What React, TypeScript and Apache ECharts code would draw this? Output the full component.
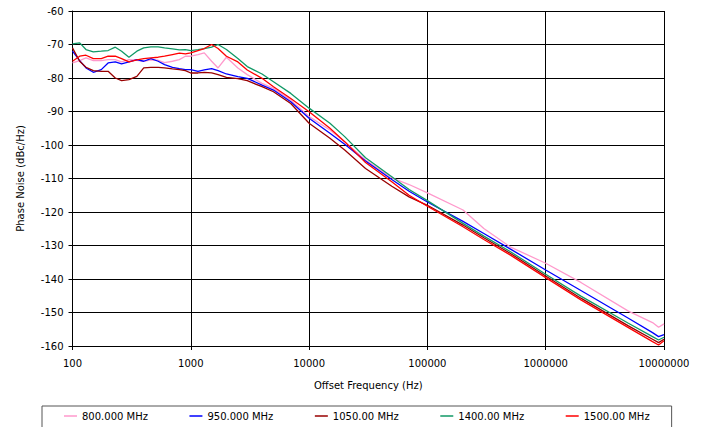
import React, { useEffect, useRef } from "react";
import * as echarts from "echarts";

// Offset frequency samples (Hz)
const freqHz = [
  100, 115, 130, 150, 175, 200, 230, 260, 300, 350, 400, 460, 530, 600, 700, 800, 900,
  1000, 1150, 1300, 1500, 1700, 2000, 2500, 3000, 4000, 5000, 7000, 10000, 15000, 20000,
  30000, 50000, 70000, 100000, 200000, 300000, 500000, 1000000, 2000000, 5000000, 8000000,
  9000000, 10000000,
];

const seriesNames = ["800.000 MHz", "950.000 MHz", "1050.00 MHz", "1400.00 MHz", "1500.00 MHz"];

const noise800 = [
  -75.5, -74.8, -74, -74.8, -74.8, -74.5, -74.5, -75.2, -74.5, -74.7, -75, -74.6, -74.7, -75.4,
  -75, -74.5, -73.5, -73.5, -73, -72.5, -75, -77, -73.8, -77,
  -79, -81.6, -83.1, -86.6, -91.5, -95.5, -99, -104.5, -109.8, -111.8, -114.3, -119.4, -124.9,
  -130.4, -135.3, -141.1, -149.6, -153, -154.4, -153.4,
];

const noise950 = [
  -72, -74.8, -77, -78.3, -77.5, -75.5, -75.2, -75.8, -75.2, -74.5, -75, -74.2, -75, -76,
  -76.8, -77.2, -77.5, -77.5, -78, -77.6, -77.2, -77.8, -78.8, -79.6,
  -80.1, -82.1, -83.6, -87.1, -92, -96.5, -99.8, -104.8, -110.3, -113.8, -117, -122.8, -126.4,
  -131, -137.3, -143.5, -151.7, -156, -157.2, -156.6,
];

const noise1050 = [
  -71, -75, -76.8, -77.8, -78, -78, -80, -80.8, -80.5, -79.5, -77, -76.8, -76.8, -77, -77.3,
  -77.5, -77.8, -78.5, -78.5, -78.3, -78.5, -79, -79.8, -80.2,
  -80.8, -82.6, -84.1, -87.6, -93.5, -98, -101.5, -107, -112.3, -115.5, -118, -123.9, -127.7,
  -132.3, -139.1, -145.8, -154, -158, -159, -158,
];

const noise1400 = [
  -69.8, -69.5, -71.5, -72.2, -72, -71.8, -70.8, -72, -73.8, -72, -71, -70.7, -70.7, -71,
  -71.3, -71.6, -71.5, -71.8, -71.5, -71.2, -70.8, -70, -71.5, -74.2,
  -76.6, -78.8, -81.1, -84.6, -89, -93.5, -97.5, -103.8, -109.5, -113.3, -116.6, -123.4, -127.2,
  -131.8, -138.6, -145.2, -153.2, -157.2, -158.2, -157.4,
];

const noise1500 = [
  -75, -73.5, -73.2, -74.2, -74.2, -73.5, -73.5, -74.2, -75.2, -74.6, -74.2, -74, -73.8, -73.5,
  -73, -72.6, -72.8, -72.5, -71.8, -71.2, -70, -71.2, -73.5, -75.2,
  -77.6, -80.1, -82.6, -86.1, -90.1, -95, -99, -105.2, -111, -115, -118.3, -124.4, -128.2,
  -132.8, -139.6, -146.3, -154.5, -158.7, -159.7, -158.4,
];

const allSeries = [noise800, noise950, noise1050, noise1400, noise1500];
const seriesColors = ["#ff99cc", "#0000ff", "#990000", "#119966", "#ff0000"];

const FONT = "DejaVu Sans";

export default function App() {
  const ref = useRef<HTMLDivElement>(null);

  useEffect(() => {
    if (!ref.current) return;
    const chart = echarts.init(ref.current, undefined, { renderer: "svg" });
    const option: any = {
      animation: false,
      backgroundColor: "#ffffff",
      grid: { left: 72.5, right: 38, top: 11, bottom: 81, containLabel: false },
      xAxis: {
        type: "log",
        logBase: 10,
        min: 100,
        max: 10000000,
        name: "Offset Frequency (Hz)",
        nameLocation: "middle",
        nameGap: 34,
        nameTextStyle: { fontFamily: FONT, fontSize: 10, color: "#000" },
        axisLine: { show: true, lineStyle: { color: "#000", width: 1 } },
        axisTick: { show: true, length: 4, lineStyle: { color: "#000" } },
        axisLabel: {
          margin: 12,
          fontFamily: FONT,
          fontSize: 10,
          color: "#000",
          formatter: (v: number) => String(Math.round(v)),
        },
        splitLine: { show: true, lineStyle: { color: "#000", width: 1 } },
        minorTick: { show: false },
        minorSplitLine: { show: false },
      },
      yAxis: {
        type: "value",
        min: -160,
        max: -60,
        interval: 10,
        name: "Phase Noise (dBc/Hz)",
        nameLocation: "middle",
        nameGap: 47,
        nameTextStyle: { fontFamily: FONT, fontSize: 10, color: "#000" },
        axisLine: { show: true, lineStyle: { color: "#000", width: 1 } },
        axisTick: { show: true, length: 4, lineStyle: { color: "#000" } },
        axisLabel: { margin: 9, fontFamily: FONT, fontSize: 10, color: "#000" },
        splitLine: { show: true, lineStyle: { color: "#000", width: 1 } },
      },
      legend: {
        show: true,
        left: 42,
        top: 406,
        orient: "horizontal",
        padding: [5, 22, 8, 22],
        itemGap: 41.5,
        itemWidth: 13,
        itemHeight: 1.5,
        icon: "rect",
        borderColor: "#555",
        borderWidth: 1,
        backgroundColor: "#fff",
        textStyle: { fontFamily: FONT, fontSize: 10, color: "#000" },
        data: seriesNames,
      },
      series: allSeries.map((vals, i) => ({
        name: seriesNames[i],
        type: "line",
        data: freqHz.map((f, j) => [f, vals[j]]),
        showSymbol: false,
        symbol: "none",
        smooth: false,
        clip: true,
        color: seriesColors[i],
        lineStyle: { color: seriesColors[i], width: 1.3 },
        itemStyle: { color: seriesColors[i] },
      })),
    };
    chart.setOption(option);
    return () => chart.dispose();
  }, []);

  return (
    <div
      ref={ref}
      style={{ position: "fixed", left: 0, top: 0, width: 702, height: 427, background: "#fff" }}
    />
  );
}
